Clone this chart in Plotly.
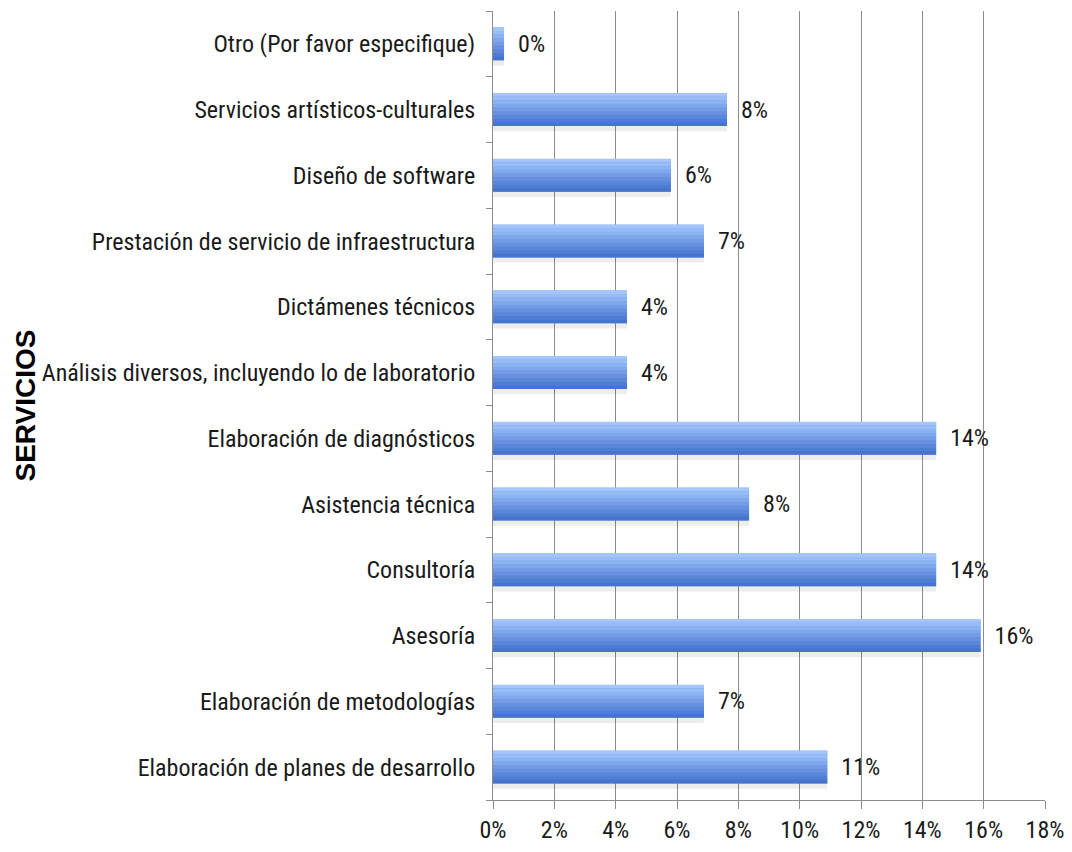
import plotly.graph_objects as go

categories = [
    "Elaboración de planes de desarrollo",
    "Elaboración de metodologías",
    "Asesoría",
    "Consultoría",
    "Asistencia técnica",
    "Elaboración de diagnósticos",
    "Análisis diversos, incluyendo lo de laboratorio",
    "Dictámenes técnicos",
    "Prestación de servicio de infraestructura",
    "Diseño de software",
    "Servicios artísticos-culturales",
    "Otro (Por favor especifique)",
]
values = [10.9, 6.88, 15.9, 14.45, 8.35, 14.45, 4.37, 4.37, 6.88, 5.8, 7.63, 0.36]
tick_vals = [0, 2, 4, 6, 8, 10, 12, 14, 16, 18]
tick_text = ["0%", "2%", "4%", "6%", "8%", "10%", "12%", "14%", "16%", "18%"]

FONT = "Liberation Sans Narrow, Arial Narrow, Roboto Condensed, Roboto, Liberation Sans, Arial, sans-serif"

# gradient shades, top of bar to bottom
SHADES = ["#A3C5FA", "#97BCF6", "#8BB2F1", "#7FA7EC", "#739CE6", "#6791E0", "#5B87D9", "#4F7DD3", "#4474CC"]
BAR_W = 0.5

fig = go.Figure()
# soft shadow under each bar
fig.add_trace(go.Bar(
    y=categories, x=values, orientation="h",
    width=0.08, offset=-BAR_W / 2 - 0.08,
    marker=dict(color="rgba(0,0,0,0.07)", line=dict(width=0)),
    hoverinfo="skip",
))
# base bar carrying the value labels
fig.add_trace(go.Bar(
    y=categories, x=values, orientation="h",
    width=BAR_W, offset=-BAR_W / 2,
    marker=dict(color="#6A94E3", line=dict(width=0)),
    texttemplate="  %{x:.0f}%",
    textposition="outside",
    textfont=dict(family=FONT, size=24, color="#1a1a1a"),
    cliponaxis=False,
))
# gradient strips
n = len(SHADES)
sw = BAR_W / n
for i, c in enumerate(SHADES):
    fig.add_trace(go.Bar(
        y=categories, x=values, orientation="h",
        width=sw + 0.002, offset=BAR_W / 2 - (i + 1) * sw,
        marker=dict(color=c, line=dict(width=0)),
        hoverinfo="skip",
    ))

fig.update_layout(
    width=1064,
    height=844,
    paper_bgcolor="white",
    plot_bgcolor="white",
    margin=dict(l=485, r=27, t=3, b=52, autoexpand=False),
    showlegend=False,
    barmode="overlay",
    font=dict(family=FONT, size=24, color="#1a1a1a"),
    annotations=[dict(
        text="<b>SERVICIOS</b>", textangle=-90,
        xref="paper", yref="paper", x=(25 - 493) / 552, y=0.5,
        xanchor="center", yanchor="middle", showarrow=False,
        font=dict(family="Liberation Sans, Arial, sans-serif", size=28, color="black"),
    )],
)
fig.update_xaxes(
    range=[0, 18],
    tickvals=tick_vals,
    ticktext=tick_text,
    showgrid=True,
    gridcolor="#8c8c8c",
    gridwidth=1,
    showline=True,
    linecolor="#8c8c8c",
    ticks="outside",
    ticklen=8,
    tickcolor="#8c8c8c",
    tickfont=dict(family=FONT, size=24, color="#1a1a1a"),
    zeroline=False,
    fixedrange=True,
    automargin=False,
)
fig.update_yaxes(
    categoryorder="array",
    categoryarray=categories,
    showline=True,
    linecolor="#8c8c8c",
    ticks="outside",
    tickson="boundaries",
    ticklen=6,
    tickcolor="#8c8c8c",
    tickfont=dict(family=FONT, size=24, color="#1a1a1a"),
    ticklabelstandoff=12,
    range=[-0.5, 11.5],
    fixedrange=True,
    automargin=False,
)

fig.write_html("out.html")
